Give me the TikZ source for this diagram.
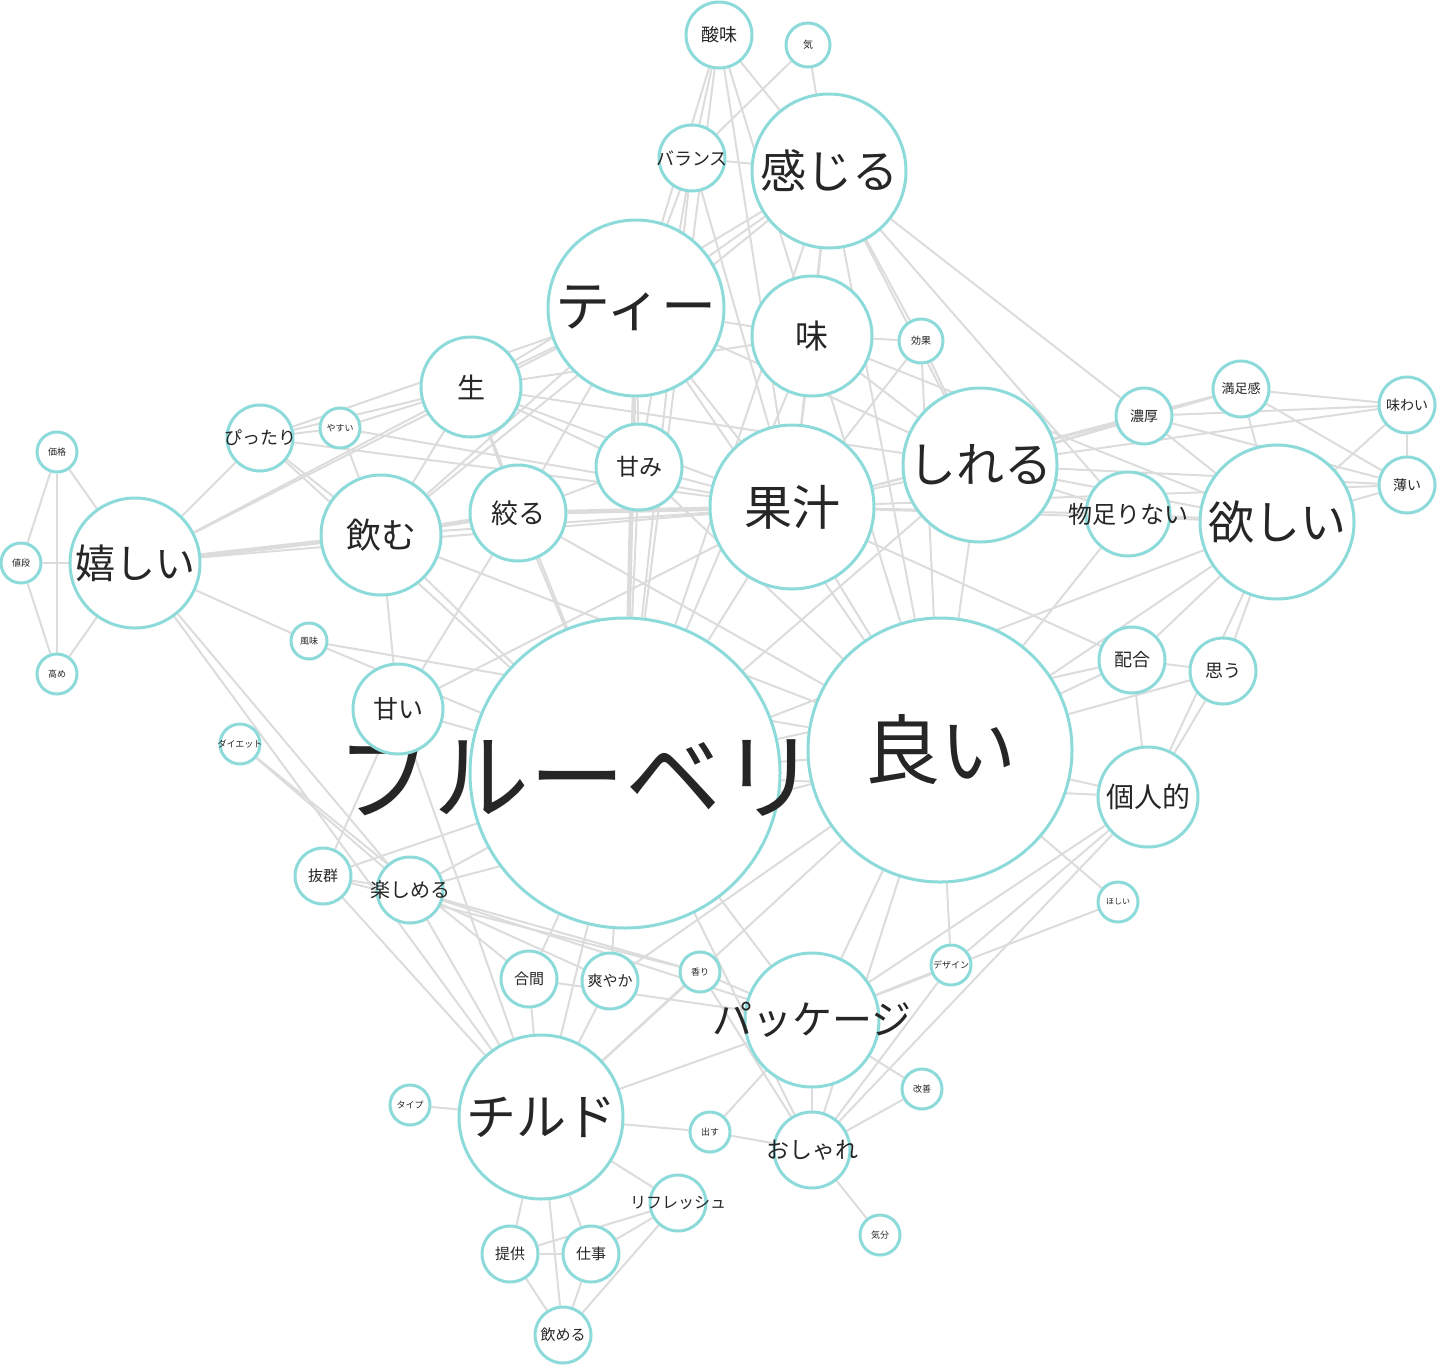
\documentclass[tikz,border=0pt]{standalone}
\usepackage{fontspec}
\newfontfamily\jp{Noto Sans CJK JP}
\usepackage{tikz}
\usetikzlibrary{backgrounds}
\definecolor{ring}{RGB}{140,218,218}
\definecolor{link}{RGB}{220,220,220}
\newcommand{\kw}[1]{\makebox[0pt]{#1}}

\begin{document}
\begin{tikzpicture}[x=1pt, y=-1pt,
    word/.style={circle, draw=ring, line width=3pt, fill=white, inner sep=0pt,
                 text=black!85, font=\jp\fontsize{#1}{#1}\selectfont},
    edge/.style={draw=link, line width=2pt},
    wedge/.style={draw=link, line width=4.5pt}]
    \useasboundingbox (0,0) rectangle (1440,1369);

    % Top words
    \node[word=18, minimum size=66pt] (sanmi) at (719,35) {\kw{酸味}};
    \node[word=10, minimum size=44pt] (ki) at (808,45) {\kw{気}};
    \node[word=18, minimum size=66pt] (balance) at (692,158) {\kw{バランス}};
    \node[word=46, minimum size=154pt] (kanjiru) at (829,171) {\kw{感じる}};
    \node[word=55, minimum size=176pt] (tea) at (636,308) {\kw{ティー}};
    \node[word=33, minimum size=120pt] (aji) at (812,336) {\kw{味}};
    \node[word=10, minimum size=44pt] (kouka) at (921,341) {\kw{効果}};
    \node[word=28, minimum size=100pt] (nama) at (471,387) {\kw{生}};

    % Left words
    \node[word=18, minimum size=66pt] (pittari) at (260,438) {\kw{ぴったり}};
    \node[word=9, minimum size=40pt] (yasui) at (340,428) {\kw{やすい}};
    \node[word=9, minimum size=40pt] (kakaku) at (57,452) {\kw{価格}};
    \node[word=9, minimum size=40pt] (nedan) at (21,563) {\kw{値段}};
    \node[word=9, minimum size=40pt] (takame) at (57,674) {\kw{高め}};
    \node[word=40, minimum size=130pt] (ureshii) at (135,563) {\kw{嬉しい}};
    \node[word=9, minimum size=36pt] (fumi) at (309,641) {\kw{風味}};
    \node[word=9, minimum size=40pt] (diet) at (240,744) {\kw{ダイエット}};

    % Right words
    \node[word=14, minimum size=56pt] (noukou) at (1144,416) {\kw{濃厚}};
    \node[word=13, minimum size=56pt] (manzoku) at (1241,389) {\kw{満足感}};
    \node[word=14, minimum size=56pt] (ajiwai) at (1407,405) {\kw{味わい}};
    \node[word=14, minimum size=56pt] (usui) at (1407,485) {\kw{薄い}};
    \node[word=48, minimum size=154pt] (shireru) at (980,465) {\kw{しれる}};
    \node[word=24, minimum size=84pt] (monotarinai) at (1128,514) {\kw{物足りない}};
    \node[word=46, minimum size=154pt] (hoshii) at (1277,522) {\kw{欲しい}};
    \node[word=18, minimum size=66pt] (haigou) at (1132,660) {\kw{配合}};
    \node[word=18, minimum size=66pt] (omou) at (1223,671) {\kw{思う}};
    \node[word=28, minimum size=100pt] (kojin) at (1148,797) {\kw{個人的}};
    \node[word=8, minimum size=40pt] (hoshiihira) at (1118,902) {\kw{ほしい}};

    % Center words
    \node[word=23, minimum size=86pt] (amami) at (639,467) {\kw{甘み}};
    \node[word=48, minimum size=164pt] (kaju) at (792,507) {\kw{果汁}};
    \node[word=27, minimum size=96pt] (shiboru) at (518,513) {\kw{絞る}};
    \node[word=35, minimum size=120pt] (nomu) at (381,535) {\kw{飲む}};
    \node[word=96, minimum size=310pt] (blueberry) at (625,773) {\kw{ブルーベリー}};
    \node[word=25, minimum size=90pt] (amai) at (398,709) {\kw{甘い}};
    \node[word=76, minimum size=264pt] (yoi) at (940,750) {\kw{良い}};

    % Bottom words
    \node[word=15, minimum size=56pt] (batsugun) at (323,876) {\kw{抜群}};
    \node[word=20, minimum size=66pt] (tanoshimeru) at (410,890) {\kw{楽しめる}};
    \node[word=9, minimum size=40pt] (design) at (951,965) {\kw{デザイン}};
    \node[word=9, minimum size=40pt] (kaori) at (700,972) {\kw{香り}};
    \node[word=15, minimum size=56pt] (aima) at (529,979) {\kw{合間}};
    \node[word=15, minimum size=56pt] (sawayaka) at (610,981) {\kw{爽やか}};
    \node[word=40, minimum size=134pt] (package) at (812,1020) {\kw{パッケージ}};
    \node[word=9, minimum size=40pt] (kaizen) at (922,1089) {\kw{改善}};
    \node[word=9, minimum size=40pt] (type) at (410,1105) {\kw{タイプ}};
    \node[word=50, minimum size=164pt] (chilled) at (541,1117) {\kw{チルド}};
    \node[word=9, minimum size=40pt] (dasu) at (710,1132) {\kw{出す}};
    \node[word=23, minimum size=76pt] (oshare) at (812,1150) {\kw{おしゃれ}};
    \node[word=16, minimum size=56pt] (refresh) at (678,1203) {\kw{リフレッシュ}};
    \node[word=9, minimum size=40pt] (kibun) at (880,1235) {\kw{気分}};
    \node[word=15, minimum size=56pt] (teikyou) at (510,1254) {\kw{提供}};
    \node[word=15, minimum size=56pt] (shigoto) at (591,1254) {\kw{仕事}};
    \node[word=15, minimum size=56pt] (nomeru) at (563,1335) {\kw{飲める}};

    % Co-occurrence links
    \begin{scope}[on background layer]
    \foreach \a/\b in {ureshii/nomu, tea/blueberry, kaju/shiboru, shiboru/nomu}
        \draw[wedge] (\a) -- (\b);
    \foreach \a/\b in {kakaku/nedan, kakaku/takame, nedan/takame, kakaku/ureshii,
        nedan/ureshii, takame/ureshii, ureshii/nama, ureshii/tea, ureshii/pittari,
        ureshii/fumi, ureshii/tanoshimeru, ureshii/chilled, ureshii/kaju,
        pittari/yasui, pittari/nomu, pittari/nama, pittari/tea, pittari/kaju,
        pittari/blueberry, yasui/nama, yasui/kaju, yasui/nomu,
        fumi/blueberry, fumi/yoi, diet/tanoshimeru, diet/aima,
        sanmi/balance, sanmi/kanjiru, sanmi/tea, sanmi/aji, sanmi/kaju,
        sanmi/blueberry, ki/kanjiru, ki/balance,
        balance/kanjiru, balance/tea, balance/amami, balance/blueberry, balance/kaju,
        kanjiru/tea, kanjiru/aji, kanjiru/shireru, kanjiru/kaju, kanjiru/yoi,
        kanjiru/noukou, kanjiru/nama, kanjiru/blueberry, kanjiru/kouka,
        kanjiru/monotarinai, kanjiru/nomu,
        tea/nama, tea/aji, tea/kaju, tea/shiboru, tea/amami, tea/nomu, tea/yoi,
        tea/shireru, aji/kaju, aji/shireru, aji/yoi, aji/blueberry, aji/nama,
        aji/kouka, aji/hoshii, kouka/shireru, kouka/yoi, kouka/kaju,
        nama/nomu, nama/shiboru, nama/kaju, nama/blueberry, nama/amami, nama/shireru,
        shireru/kaju, shireru/yoi, shireru/hoshii, shireru/monotarinai,
        shireru/noukou, shireru/ajiwai, shireru/usui, shireru/blueberry,
        shireru/manzoku, noukou/manzoku, noukou/ajiwai, noukou/hoshii, noukou/usui,
        noukou/kaju, manzoku/ajiwai, manzoku/hoshii, manzoku/usui, manzoku/kaju,
        ajiwai/usui, ajiwai/hoshii, usui/hoshii, usui/kaju,
        monotarinai/hoshii, monotarinai/kaju, monotarinai/yoi,
        hoshii/yoi, hoshii/omou, hoshii/kojin, hoshii/haigou, hoshii/kaju,
        hoshii/blueberry, haigou/omou, haigou/kojin, haigou/yoi, haigou/blueberry,
        haigou/kaju, omou/kojin, omou/yoi, kojin/yoi, kojin/package, kojin/oshare,
        kojin/design, kojin/blueberry,
        kaju/blueberry, kaju/yoi, kaju/amami, kaju/nomu, kaju/amai,
        amami/blueberry, amami/shiboru, amami/yoi, shiboru/blueberry, shiboru/amai,
        shiboru/yoi, nomu/blueberry, nomu/amai, nomu/yoi,
        amai/blueberry, amai/batsugun, amai/chilled,
        blueberry/yoi, blueberry/chilled, blueberry/package, blueberry/tanoshimeru,
        blueberry/sawayaka, blueberry/aima, blueberry/batsugun, blueberry/oshare,
        yoi/package, yoi/design, yoi/hoshiihira, yoi/chilled, yoi/oshare,
        yoi/tanoshimeru, batsugun/tanoshimeru, batsugun/chilled, batsugun/kaori,
        tanoshimeru/chilled, tanoshimeru/package, tanoshimeru/kaori,
        tanoshimeru/sawayaka, aima/chilled, aima/package, sawayaka/chilled,
        sawayaka/yoi, kaori/package, kaori/chilled, kaori/oshare,
        package/oshare, package/design, package/kaizen, package/chilled,
        package/dasu, hoshiihira/package, oshare/dasu, oshare/kibun,
        oshare/kaizen, oshare/design, chilled/type, chilled/dasu, chilled/refresh,
        chilled/teikyou, chilled/shigoto, chilled/nomeru, refresh/teikyou,
        refresh/shigoto, refresh/nomeru, teikyou/shigoto, teikyou/nomeru,
        shigoto/nomeru}
        \draw[edge] (\a) -- (\b);
    \end{scope}
\end{tikzpicture}
\end{document}
